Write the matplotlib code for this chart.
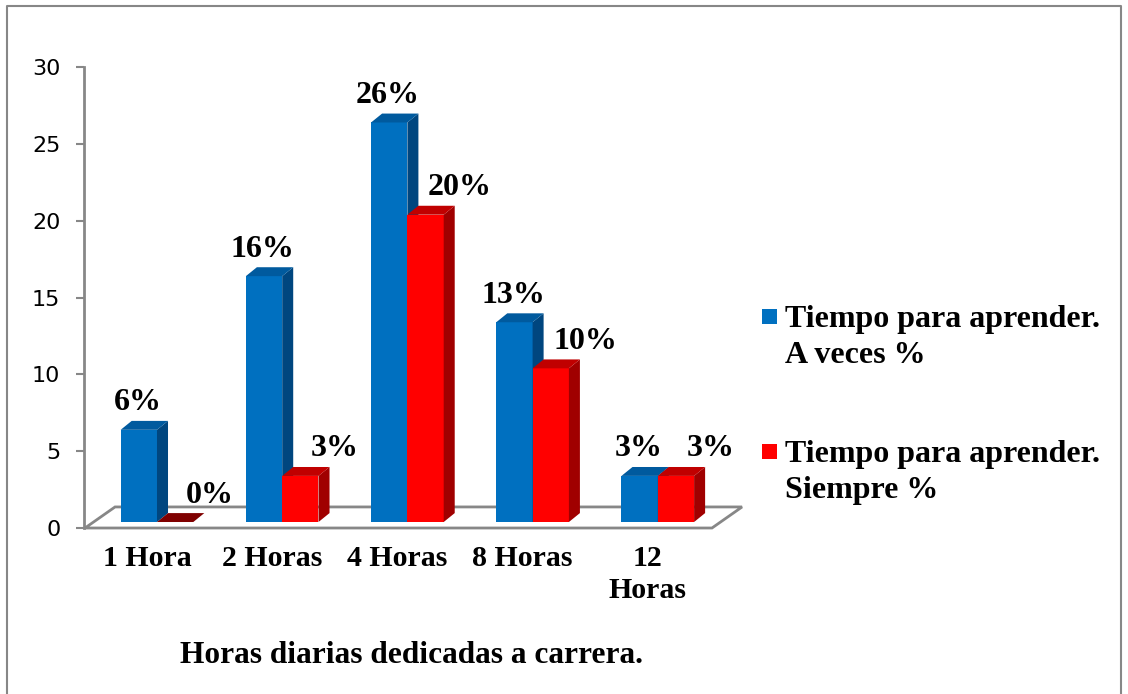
import matplotlib.pyplot as plt
from matplotlib.patches import Polygon, Rectangle
from matplotlib.lines import Line2D

categories = ['1 Hora', '2 Horas', '4 Horas', '8 Horas', '12\nHoras']
a_veces = [6, 16, 26, 13, 3]
siempre = [0, 3, 20, 10, 3]
series_labels = ['Tiempo para aprender.\nA veces %', 'Tiempo para aprender.\nSiempre %']
x_title = 'Horas diarias dedicadas a carrera.'

# faces: front, side, top
BLUE = ('#0070c0', '#00467f', '#005a9e')
RED = ('#ff0000', '#a00000', '#c00000')
GRAY = '#878787'
SERIF = 'Liberation Serif'

W = 0.29          # bar width (category units)
DX, DY = 0.088, 0.58   # fake depth of bars
BASE = 0.39       # bars stand a bit behind the floor front edge
FDX, FDY = 0.24, 1.37  # floor depth

fig = plt.figure(figsize=(11.28, 6.94), dpi=100)
ax = fig.add_axes([84 / 1128, 1 - 528 / 694, 628 / 1128, 461 / 694])
ax.set_xlim(-0.583, 4.433)
ax.set_ylim(0, 30)


def box3d(x0, h, faces, z):
    front, side, top = faces
    ax.bar(x0, h, W, bottom=BASE, align='edge', color=front, lw=0, zorder=z)
    x1, y0, y1 = x0 + W, BASE, BASE + h
    ax.add_patch(Polygon([(x1, y0), (x1 + DX, y0 + DY), (x1 + DX, y1 + DY), (x1, y1)],
                         fc=side, lw=0, zorder=z + 0.1, clip_on=False))
    ax.add_patch(Polygon([(x0, y1), (x0 + DX, y1 + DY), (x1 + DX, y1 + DY), (x1, y1)],
                         fc=top if h > 0 else '#7f0000', lw=0, zorder=z + 0.1, clip_on=False))


# floor
fl, fr = -0.575, 4.433
ax.add_patch(Polygon([(fl, 0), (fl + FDX, FDY), (fr + FDX, FDY), (fr, 0)], closed=True,
                     fc='white', ec=GRAY, lw=2, zorder=1, clip_on=False))

for i, (b, r) in enumerate(zip(a_veces, siempre)):
    box3d(i - W, b, BLUE, 2 + i)
    box3d(i, r, RED, 2.5 + i)
    for xc, v in ((i - W / 2 - 0.01, b), (i + 0.42, r)):
        ax.annotate(f'{v}%', (xc, BASE + v), xytext=(0, 14), textcoords='offset points',
                    ha='center', va='baseline', fontsize=23, fontweight='bold',
                    family=SERIF, zorder=20, annotation_clip=False)

for s in ('top', 'right', 'bottom'):
    ax.spines[s].set_visible(False)
ax.spines['left'].set_color(GRAY)
ax.spines['left'].set_linewidth(2)
ax.set_yticks(range(0, 31, 5))
ax.tick_params(axis='y', length=6, width=1.5, color=GRAY, labelsize=16, pad=11)

ax.set_xticks([i - 0.08 for i in range(len(categories))])
ax.set_xticklabels(categories, fontsize=21.5, fontweight='bold', family=SERIF, linespacing=1.25)
ax.tick_params(axis='x', length=0, pad=12)

fig.text(411 / 1128, 1 - 663 / 694, x_title, ha='center', va='baseline',
         fontsize=22.6, fontweight='bold', family=SERIF)

# legend
for k, (lab, faces) in enumerate(zip(series_labels, (BLUE, RED))):
    y0 = 327 + k * 135
    fig.patches.append(Rectangle((762 / 1128, 1 - (y0 - 3) / 694), 15 / 1128, 15 / 694,
                                 transform=fig.transFigure, fc=faces[0], lw=0))
    for j, line in enumerate(lab.split('\n')):
        fig.text(785 / 1128, 1 - (y0 + 36 * j) / 694, line, ha='left', va='baseline',
                 fontsize=23, fontweight='bold', family=SERIF)

# outer frame
fig.add_artist(Line2D([7 / 1128, 7 / 1128, 1121 / 1128, 1121 / 1128],
                      [0, 1 - 6 / 694, 1 - 6 / 694, 0], color=GRAY, lw=1.5))

fig.savefig('out.png', dpi=100)
